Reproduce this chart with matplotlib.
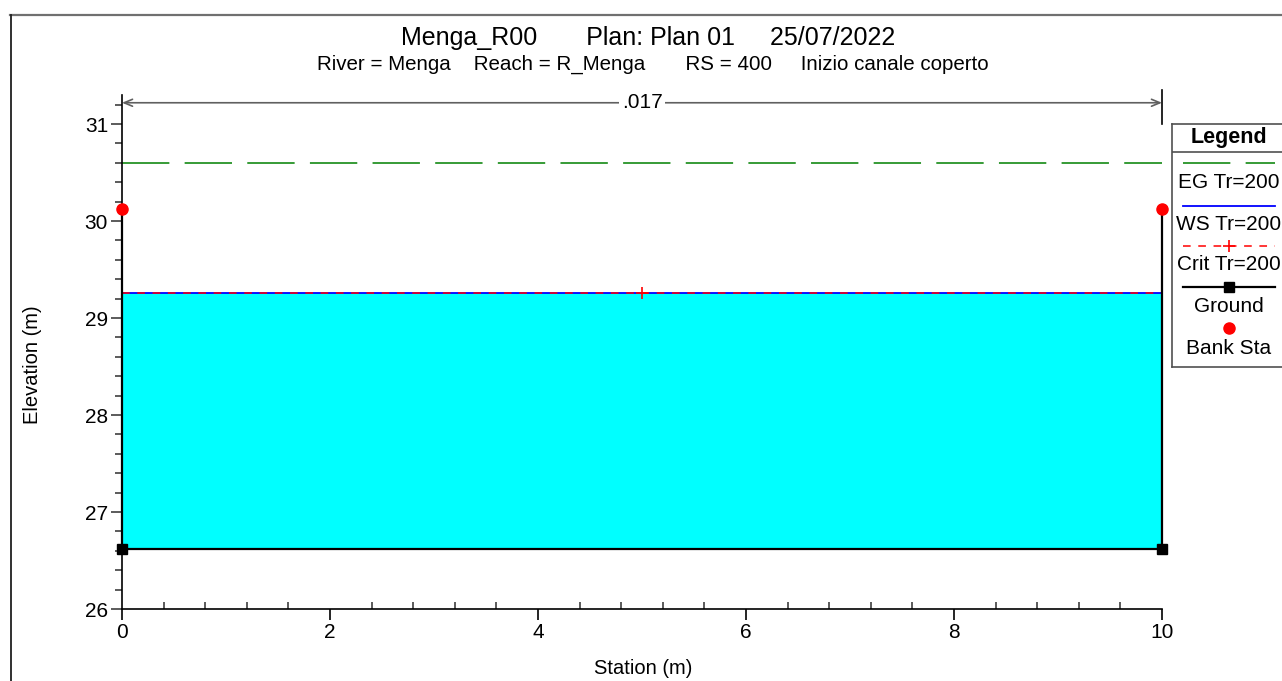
import matplotlib
matplotlib.use("Agg")
import matplotlib.pyplot as plt
from matplotlib.lines import Line2D
from matplotlib.ticker import MultipleLocator

plt.rcParams['font.family'] = ['Liberation Sans', 'DejaVu Sans']

# ---- data ----
ground_x = [0, 0, 10, 10]
ground_y = [30.12, 26.62, 26.62, 30.12]
ground_marker_x = [0, 10]
ground_marker_y = [26.62, 26.62]
bank_x = [0, 10]
bank_y = [30.12, 30.12]
ws_elev = 29.26
eg_elev = 30.60
crit_elev = 29.26
crit_marker_x = [5]
n_value = ".017"
n_start, n_end = 0, 10
title = "Menga_R00       Plan: Plan 01     25/07/2022"
subtitle = "River = Menga    Reach = R_Menga       RS = 400     Inizio canale coperto"
legend_labels = ["EG Tr=200", "WS Tr=200", "Crit Tr=200", "Ground", "Bank Sta"]

W, H = 1282, 681
fig = plt.figure(figsize=(W / 100, H / 100), dpi=100)

def fx(px):
    return px / W

def fy(py):
    return 1 - py / H

ax_left, ax_right, ax_bottom, ax_top = 122, 1162, 609, 95
ax = fig.add_axes([fx(ax_left), fy(ax_bottom), (ax_right - ax_left) / W, (ax_bottom - ax_top) / H])
ax.set_xlim(0, 10)
ax.set_ylim(26, 31.3)
for s in ['top', 'right']:
    ax.spines[s].set_visible(False)
for s in ['left', 'bottom']:
    ax.spines[s].set_linewidth(1.2)
    ax.spines[s].set_color('black')

# water fill
ax.fill_between([ground_x[1], ground_x[2]], [ground_y[1]] * 2, [ws_elev] * 2,
                color='#00ffff', zorder=1, linewidth=0)
# EG
ax.plot([0, 10], [eg_elev, eg_elev], color='#008000', lw=1.1, dashes=(31, 10), zorder=2)
# WS
ax.plot([0, 10], [ws_elev, ws_elev], color='#0000ff', lw=1.3, zorder=3)
# Crit
ax.plot([0, 10], [crit_elev, crit_elev], color='#ff0000', lw=1.1, dashes=(5, 5), zorder=4)
ax.plot(crit_marker_x, [crit_elev] * len(crit_marker_x), linestyle='none', marker='+',
        color='#ff0000', ms=9, mew=1.2, zorder=4)
# Ground
ax.plot(ground_x, ground_y, color='black', lw=1.6, zorder=5, clip_on=False)
ax.plot(ground_marker_x, ground_marker_y, linestyle='none', marker='s', color='black',
        ms=6.5, zorder=6, clip_on=False)
# Bank
ax.plot(bank_x, bank_y, linestyle='none', marker='o', color='#ff0000', ms=8, zorder=7, clip_on=False)

# n-value annotation
ax.annotate('', xy=(n_start, 31.22), xytext=(n_end, 31.22),
            arrowprops=dict(arrowstyle='<->,head_length=0.6,head_width=0.25', color='#606060',
                            lw=1.2, shrinkA=0, shrinkB=0), annotation_clip=False)
ax.plot([n_end, n_end], [31.0, 31.35], color='black', lw=1.2, clip_on=False)
ax.text((n_start + n_end) / 2, 31.22, n_value, ha='center', va='center', fontsize=15,
        bbox=dict(facecolor='white', edgecolor='none', pad=2), zorder=8)

# ticks
ax.xaxis.set_major_locator(MultipleLocator(2))
ax.xaxis.set_minor_locator(MultipleLocator(0.4))
ax.yaxis.set_major_locator(MultipleLocator(1))
ax.yaxis.set_minor_locator(MultipleLocator(0.2))
ax.tick_params(axis='x', which='major', direction='out', length=8, width=1.2, labelsize=15, pad=2)
ax.tick_params(axis='x', which='minor', direction='in', length=5, width=1.2, color='#404040')
ax.tick_params(axis='y', which='major', direction='out', length=8, width=1.2, labelsize=15, pad=2, color='#404040')
ax.tick_params(axis='y', which='minor', direction='out', length=5, width=1.2, color='#404040')
ax.set_xticklabels([], minor=True)

fig.text(fx(643), fy(668), "Station (m)", ha='center', va='center', fontsize=14.5)
fig.text(fx(33), fy(365), "Elevation (m)", ha='center', va='center', rotation=90, fontsize=14.5)

fig.text(fx(648), fy(38), title, ha='center', va='center', fontsize=18)
fig.text(fx(653), fy(64), subtitle, ha='center', va='center', fontsize=14.8)

# figure border lines
fig.add_artist(Line2D([fx(10), 1], [fy(15), fy(15)], color='#707070', lw=1.6))
fig.add_artist(Line2D([fx(11), fx(11)], [fy(15), 0], color='#202020', lw=1.3))

# legend box
lg_l, lg_t, lg_b = 1172, 124, 367
lax = fig.add_axes([fx(lg_l), fy(lg_b), (1400 - lg_l) / W, (lg_b - lg_t) / H])
lax.set_xlim(lg_l, 1400)
lax.set_ylim(lg_b, lg_t)
lax.set_xticks([])
lax.set_yticks([])
for s in lax.spines.values():
    s.set_color('#505050')
    s.set_linewidth(1.2)
lax.plot([lg_l, 1400], [152, 152], color='#505050', lw=1.2)
cx = 1229
lax.text(cx, 138, "Legend", ha='center', va='center', fontsize=15.5, fontweight='bold')
lx0, lx1 = 1183, 1275
lax.plot([lx0, lx1], [163, 163], color='#008000', lw=1.1, dashes=(31, 10))
lax.plot([lx0, lx1], [206, 206], color='#0000ff', lw=1.3)
lax.plot([lx0, lx1], [246, 246], color='#ff0000', lw=1.1, dashes=(5, 5))
lax.plot([cx], [246], marker='+', color='#ff0000', ms=9, mew=1.2)
lax.plot([lx0, lx1], [287, 287], color='black', lw=1.6)
lax.plot([cx], [287], marker='s', color='black', ms=6.5)
lax.plot([cx], [328], marker='o', color='#ff0000', ms=8)
for lab, yy in zip(legend_labels, [182, 225, 265, 307, 348]):
    lax.text(cx, yy, lab, ha='center', va='center', fontsize=15)

fig.savefig("out.png", dpi=100)
